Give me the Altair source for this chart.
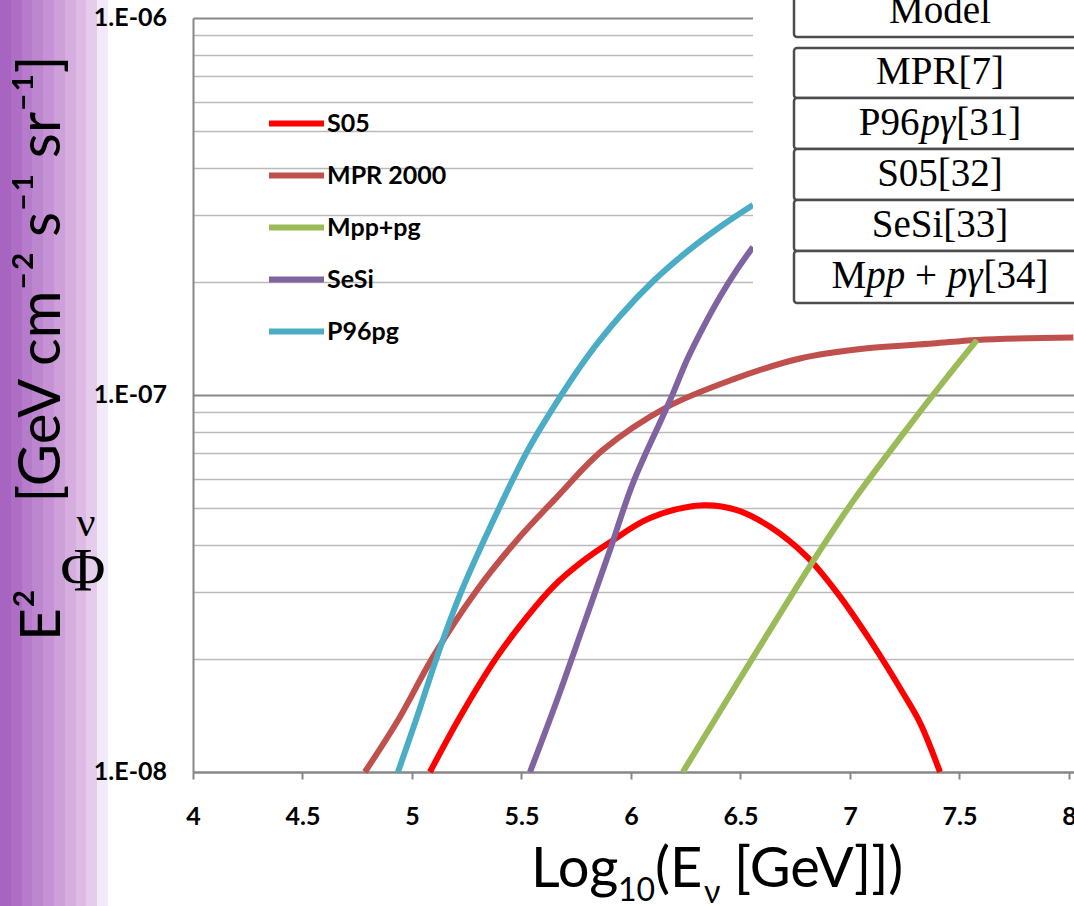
import altair as alt
import pandas as pd

# ---- model curves: x = log10(E / GeV), y = E^2 flux [GeV cm^-2 s^-1 sr^-1] ----
series_names = ["S05", "MPR 2000", "Mpp+pg", "SeSi", "P96pg"]
series_colors = ["#ff0000", "#c0504d", "#9bbb59", "#8064a2", "#4bacc6"]

s05_x = [5.082, 5.219, 5.388, 5.525, 5.644, 5.781, 5.904, 6.087, 6.329, 6.484,
         6.635, 6.804, 6.941, 7.091, 7.242, 7.320, 7.411]
s05_y = [1.00e-8, 1.40e-8, 2.02e-8, 2.58e-8, 3.10e-8, 3.63e-8, 4.07e-8, 4.72e-8,
         5.10e-8, 4.95e-8, 4.47e-8, 3.72e-8, 2.99e-8, 2.24e-8, 1.62e-8, 1.35e-8, 1.00e-8]

mpr_x = [4.785, 4.945, 5.096, 5.297, 5.479, 5.662, 5.872, 6.164, 6.466, 6.772,
         7.078, 7.379, 7.580, 8.020]
mpr_y = [1.00e-8, 1.40e-8, 2.02e-8, 3.04e-8, 4.12e-8, 5.36e-8, 7.15e-8, 9.29e-8,
         1.10e-7, 1.25e-7, 1.33e-7, 1.37e-7, 1.40e-7, 1.42e-7]

mpp_x = [6.237, 6.557, 6.831, 7.014, 7.260, 7.379, 7.580]
mpp_y = [1.00e-8, 2.01e-8, 3.62e-8, 5.23e-8, 8.13e-8, 1.00e-7, 1.40e-7]

sesi_x = [5.539, 5.662, 5.781, 5.904, 6.009, 6.146, 6.192, 6.256, 6.329, 6.406,
          6.484, 6.557]
sesi_y = [1.00e-8, 1.55e-8, 2.43e-8, 3.88e-8, 5.84e-8, 8.80e-8, 1.01e-7, 1.24e-7,
          1.51e-7, 1.82e-7, 2.15e-7, 2.47e-7]

p96_x = [4.936, 5.023, 5.114, 5.219, 5.356, 5.521, 5.616, 5.799, 5.950, 6.100,
         6.256, 6.406, 6.557]
p96_y = [1.00e-8, 1.40e-8, 2.02e-8, 2.95e-8, 4.45e-8, 7.00e-8, 8.70e-8, 1.26e-7,
         1.62e-7, 2.00e-7, 2.40e-7, 2.79e-7, 3.19e-7]

# ---- axis ticks ----
x_ticks = [4, 4.5, 5, 5.5, 6, 6.5, 7, 7.5, 8]
y_decades = [1e-8, 1e-7, 1e-6]
y_tick_labels = ["1.E-08", "1.E-07", "1.E-06"]
y_grid = [float(f"{k}e{e}") for e in (-8, -7) for k in range(1, 10)] + [1e-6]

# ---- comparison table text ----
table_header = "Model"
table_rows = [
    [("MPR[7]", False, 3.278)],
    [("P96", False, 1.556), ("pγ", True, 0.94), ("[31]", False, 1.666)],
    [("S05[32]", False, 3.222)],
    [("SeSi[33]", False, 3.5)],
    [("M", False, 0.889), ("pp", True, 1.0), ("+", False, 1.064), ("pγ", True, 0.94), ("[34]", False, 1.666)],
]

# ---- side band colours ----
band_colors = ["#a764c0", "#ae6ec5", "#b67bca", "#bd87cf", "#c593d5",
               "#cda0da", "#d5addf", "#ddbbe5", "#e6ccec", "#f2eaf8"]

curves = {
    "S05": (s05_x, s05_y),
    "MPR 2000": (mpr_x, mpr_y),
    "Mpp+pg": (mpp_x, mpp_y),
    "SeSi": (sesi_x, sesi_y),
    "P96pg": (p96_x, p96_y),
}
rows = []
for name, (xs, ys) in curves.items():
    for x, y in zip(xs, ys):
        rows.append({"model": name, "energy": x, "flux": y})
df = pd.DataFrame(rows)
ylab_df = pd.DataFrame({"flux": y_decades, "label": y_tick_labels})

W, H = 881, 754
one = alt.Data(values=[{}])


def text(t, x, y, size, font="Lato", weight="normal", style="normal",
         angle=0, align="left", baseline="alphabetic"):
    return alt.Chart(one).mark_text(
        text=t, font=font, fontSize=size, fontWeight=weight, fontStyle=style,
        angle=angle, align=align, baseline=baseline, color="black"
    ).encode(x=alt.value(x), y=alt.value(y))


def box(x1, x2, y1, y2, stroke="#4d4d4d", fill="white", sw=2.5, radius=3):
    return alt.Chart(one).mark_rect(
        fill=fill, stroke=stroke, strokeWidth=sw, cornerRadius=radius
    ).encode(x=alt.value(x1), x2=alt.value(x2), y=alt.value(y1), y2=alt.value(y2))


decade_test = "abs(log(datum.value)/LN10 - round(log(datum.value)/LN10)) < 0.001"
y_scale = alt.Scale(type="log", domain=[1e-8, 1e-6], nice=False)

lines = alt.Chart(df).mark_line(strokeWidth=6, interpolate="catmull-rom").encode(
    x=alt.X("energy:Q",
            scale=alt.Scale(domain=[4, 8.023], nice=False, zero=False),
            axis=alt.Axis(values=x_ticks, format=".1~f", title=None, grid=False,
                          domainColor="#878787", domainWidth=2,
                          tickColor="#878787", tickWidth=2, tickSize=7,
                          labelPadding=25, labelFontSize=25, labelFlush=False)),
    y=alt.Y("flux:Q", scale=y_scale,
            axis=alt.Axis(values=y_grid, labels=False, title=None, ticks=False,
                          domainColor="#878787", domainWidth=2,
                          grid=True,
                          gridColor=alt.condition(decade_test, alt.value("#878787"), alt.value("#bababa")),
                          gridWidth=alt.condition(decade_test, alt.value(2), alt.value(1.6)))),
    color=alt.Color("model:N",
                    scale=alt.Scale(domain=series_names, range=series_colors),
                    legend=alt.Legend(orient="none", legendX=73, legendY=75, title=None,
                                      symbolType="stroke", symbolSize=3025,
                                      symbolStrokeWidth=6, labelFont="Lato",
                                      labelFontWeight="bold", labelFontSize=25,
                                      labelColor="black", labelOffset=0,
                                      rowPadding=8, direction="vertical")),
)

# decade labels of the flux axis, drawn above the side band
y_labels = alt.Chart(ylab_df).mark_text(
    align="right", baseline="middle", font="Lato", fontWeight="bold",
    fontSize=25, color="black"
).encode(y=alt.Y("flux:Q", scale=y_scale), x=alt.value(-26), text="label:N")

# stepped purple band at the far left
stops = []
for i, c in enumerate(band_colors):
    stops.append(alt.GradientStop(offset=i / len(band_colors), color=c))
    stops.append(alt.GradientStop(offset=(i + 1) / len(band_colors) - 1e-4, color=c))
band = alt.Chart(one).mark_rect(
    fill=alt.LinearGradient(gradient="linear", stops=stops, x1=0, x2=1, y1=0, y2=0)
).encode(x=alt.value(-193), x2=alt.value(-85), y=alt.value(-18), y2=alt.value(888))

# table panel in the upper right
layers = [band, lines, y_labels, box(560, 900, -18, 294, stroke="white", sw=0, radius=0)]
layers.append(box(601, 900, -30, 19))
row_edges = [30, 80, 131, 182, 233, 285]
for i in range(len(table_rows)):
    layers.append(box(601, 900, row_edges[i], row_edges[i + 1]))

table_font = 39
center_x = 747
layers.append(text(table_header, center_x, 5, table_font, font="Liberation Serif", align="center"))
for i, pieces in enumerate(table_rows):
    base = (row_edges[i] + row_edges[i + 1]) / 2 + 11
    total = sum(p[2] for p in pieces) * table_font
    x = center_x - total / 2
    for t, italic, em in pieces:
        w = em * table_font
        layers.append(text(t, x + w / 2, base, table_font, font="Liberation Serif",
                           style="italic" if italic else "normal", align="center"))
        x += w

# y-axis title
layers.append(text("E²", -133, 597, 57, angle=270, align="center"))
layers.append(text("Φ", -110, 572, 62, font="Liberation Serif", align="center"))
layers.append(text("ν", -107, 518, 42, font="Liberation Serif", align="center"))
layers.append(text("[GeV cm⁻² s⁻¹ sr⁻¹]", -133, 261, 58, angle=270, align="center"))

# x-axis title
layers.append(text("Log", 338, 869, 56))
layers.append(text("10", 425, 883, 32))
layers.append(text("(E", 462, 869, 56))
layers.append(text("ν", 511, 885, 32))
layers.append(text("[GeV]])", 541, 869, 56))

chart = alt.layer(*layers).properties(
    width=W, height=H,
    autosize=alt.AutoSizeParams(type="none"),
    padding={"left": 193, "top": 18, "right": 0, "bottom": 134},
    background="white",
).configure_view(stroke=None).configure_axis(
    labelFont="Lato", labelFontWeight="bold", labelColor="black"
)

chart.save("out.html", embed_options={"renderer": "svg", "actions": False})
